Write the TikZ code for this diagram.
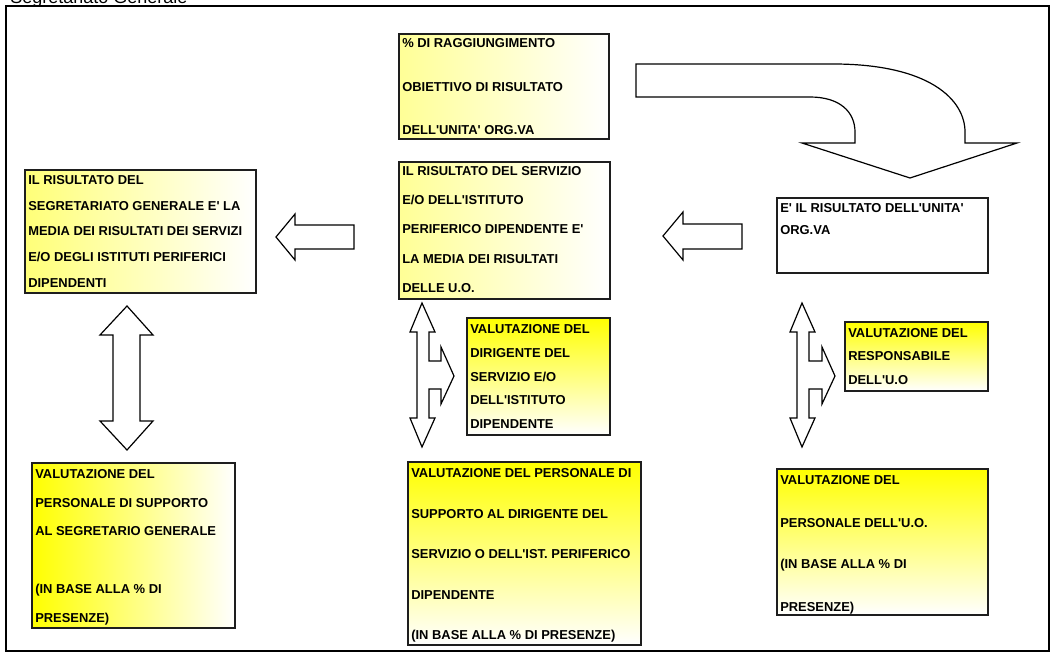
\documentclass[tikz,border=0pt]{standalone}
\usepackage{fontspec}
\setmainfont{Liberation Sans}
\usetikzlibrary{fit}
\definecolor{ylw}{RGB}{255,255,0}
\definecolor{pale}{RGB}{255,255,150}
\definecolor{mid}{RGB}{255,255,120}
\definecolor{edge}{RGB}{30,30,30}
\newcommand\q{\textquotesingle}
\newcommand\boxlines[3]{%
  \foreach \yy/\lbl [count=\i] in {#3} {\node[txt] (#1-\i) at (#2,\yy) {\lbl};}}
\begin{document}
\begin{tikzpicture}[x=0.75pt,y=-0.75pt,
  txt/.style={anchor=base west,inner sep=0pt,font=\fontsize{9.7}{11}\selectfont\bfseries,text=black},
  box/.style={draw=edge,line width=0.9pt,inner sep=0pt},
  hgrad/.style={left color=#1,right color=white},
  vgrad/.style={top color=ylw,bottom color=white},
  blk/.style={draw=black,line width=0.9pt,fill=white,line join=miter}]
\clip (0,0) rectangle (1054,656);
\fill[white] (0,0) rectangle (1054,656);
\node[anchor=base west,inner sep=0pt,font=\fontsize{13.5}{16}\selectfont] (title) at (10,4) {Segretariato Generale};
\draw[line width=1.5pt] (6,6) rectangle (1049,651);

% boxes
\node[box,hgrad=pale,fit={(399,34) (609,139)}] (top) {};
\node[box,hgrad=mid,fit={(25,170) (256,293)}] (sg) {};
\node[box,hgrad=pale,fit={(399,162) (610,299)}] (serv) {};
\node[box,fill=white,fit={(777,198) (988,273)}] (uo) {};
\node[box,hgrad=ylw,fit={(32,463) (235,628)}] (pers1) {};
\node[box,vgrad,fit={(467,318) (610,435)}] (dir) {};
\node[box,vgrad,fit={(845,322) (988,391)}] (resp) {};
\node[box,vgrad,fit={(408,462) (641,645)}] (pers2) {};
\node[box,vgrad,fit={(777,469) (988,615)}] (pers3) {};

% texts
\boxlines{topt}{402}{48/{\% DI RAGGIUNGIMENTO},92/{OBIETTIVO DI RISULTATO},135/{DELL\q UNITA\q{} ORG.VA}}
\boxlines{sgt}{28}{185/{IL RISULTATO DEL},210.5/{SEGRETARIATO GENERALE E\q{} LA},236/{MEDIA DEI RISULTATI DEI SERVIZI},261.5/{E/O DEGLI ISTITUTI PERIFERICI},287/{DIPENDENTI}}
\boxlines{servt}{402}{176/{IL RISULTATO DEL SERVIZIO},205/{E/O DELL\q ISTITUTO},234/{PERIFERICO DIPENDENTE E\q},263/{LA MEDIA DEI RISULTATI},292/{DELLE U.O.}}
\boxlines{uot}{780}{213/{E\q{} IL RISULTATO DELL\q UNITA\q},235/{ORG.VA}}
\boxlines{pers1t}{35}{478/{VALUTAZIONE DEL},507/{PERSONALE DI SUPPORTO},535.5/{AL SEGRETARIO GENERALE},593/{(IN BASE ALLA \% DI},622/{PRESENZE)}}
\boxlines{dirt}{470}{333/{VALUTAZIONE DEL},357/{DIRIGENTE DEL},381/{SERVIZIO E/O},404/{DELL\q ISTITUTO},428/{DIPENDENTE}}
\boxlines{respt}{848}{337/{VALUTAZIONE DEL},360/{RESPONSABILE},384/{DELL\q U.O}}
\boxlines{pers2t}{411}{477/{VALUTAZIONE DEL PERSONALE DI},518/{SUPPORTO AL DIRIGENTE DEL},558/{SERVIZIO O DELL\q IST. PERIFERICO},599/{DIPENDENTE},639/{(IN BASE ALLA \% DI PRESENZE)}}
\boxlines{pers3t}{780}{484/{VALUTAZIONE DEL},527/{PERSONALE DELL\q U.O.},568/{(IN BASE ALLA \% DI},611/{PRESENZE)}}

% block arrows
\draw[blk] (276,237) -- (295,214) -- (295,225) -- (354,225) -- (354,249) -- (295,249) -- (295,260) -- cycle;
\draw[blk] (663,236) -- (683,212) -- (683,224) -- (742,224) -- (742,249) -- (683,249) -- (683,260) -- cycle;
\draw[blk] (636,64) -- (833,64) .. controls (930,64) and (965,100) .. (965,132) -- (965,143) -- (1017,143) -- (910,178) -- (802,143) -- (855,143) -- (855,132) .. controls (855,112) and (840,97) .. (810,97) -- (636,97) -- cycle;
\draw[blk] (127,306) -- (153,335) -- (140,335) -- (140,421) -- (153,421) -- (127,450) -- (100,421) -- (113,421) -- (113,335) -- (100,335) -- cycle;
\draw[blk] (422,303) -- (435,332) -- (429,332) -- (429,361) -- (441,361) -- (441,347) -- (454,376) -- (441,404) -- (441,389) -- (429,389) -- (429,418) -- (435,418) -- (422,447) -- (410,418) -- (417,418) -- (417,332) -- (410,332) -- cycle;
\draw[blk] (802,303) -- (815,332) -- (809,332) -- (809,361) -- (822,361) -- (822,347) -- (835,376) -- (822,404) -- (822,389) -- (809,389) -- (809,418) -- (815,418) -- (802,447) -- (790,418) -- (797,418) -- (797,332) -- (790,332) -- cycle;
\end{tikzpicture}
\end{document}
